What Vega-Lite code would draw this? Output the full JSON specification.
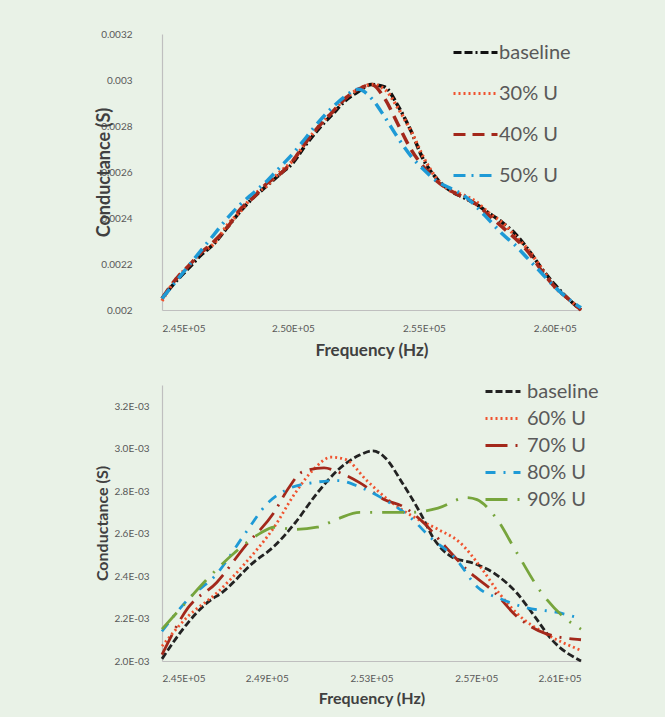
{
  "$schema": "https://vega.github.io/schema/vega-lite/v6.json",
  "background": "#e9f2e7",
  "padding": {"left": 94, "top": 29, "right": 78, "bottom": 12},
  "spacing": 22,
  "resolve": {"scale": {"color": "independent", "strokeDash": "independent"}, "legend": {"color": "independent", "strokeDash": "independent"}},
  "config": {
    "font": "Lato",
    "view": {"stroke": null},
    "axis": {
      "domainColor": "#bfbfbf",
      "domainWidth": 1.2,
      "ticks": false,
      "grid": false,
      "labelColor": "#595959",
      "labelFontSize": 10,
      "labelFont": "Lato",
      "titleColor": "#404040",
      "titleFont": "Lato",
      "titleFontWeight": "bold"
    },
    "legend": {
      "labelColor": "#595959",
      "labelFont": "Lato",
      "labelFontSize": 20,
      "symbolStrokeWidth": 3,
      "padding": 0,
      "orient": "none"
    }
  },
  "vconcat": [
    {
      "width": 419,
      "height": 276,
      "data": {"values": [
        {"f":245000,"G":0.00205,"s":"baseline"},{"f":245500,"G":0.00212,"s":"baseline"},{"f":246000,"G":0.00218,"s":"baseline"},{"f":246500,"G":0.00224,"s":"baseline"},{"f":247000,"G":0.00229,"s":"baseline"},{"f":247500,"G":0.00236,"s":"baseline"},{"f":248000,"G":0.00243,"s":"baseline"},{"f":248500,"G":0.00249,"s":"baseline"},{"f":249000,"G":0.00254,"s":"baseline"},{"f":249500,"G":0.00259,"s":"baseline"},{"f":250000,"G":0.00264,"s":"baseline"},{"f":250500,"G":0.00272,"s":"baseline"},{"f":251000,"G":0.00279,"s":"baseline"},{"f":251500,"G":0.00285,"s":"baseline"},{"f":252000,"G":0.00291,"s":"baseline"},{"f":252500,"G":0.00295,"s":"baseline"},{"f":253000,"G":0.00298,"s":"baseline"},{"f":253500,"G":0.00297,"s":"baseline"},{"f":254000,"G":0.00289,"s":"baseline"},{"f":254500,"G":0.00278,"s":"baseline"},{"f":255000,"G":0.00265,"s":"baseline"},{"f":255500,"G":0.00257,"s":"baseline"},{"f":256000,"G":0.00252,"s":"baseline"},{"f":256500,"G":0.00249,"s":"baseline"},{"f":257000,"G":0.00246,"s":"baseline"},{"f":257500,"G":0.00242,"s":"baseline"},{"f":258000,"G":0.00238,"s":"baseline"},{"f":258500,"G":0.00233,"s":"baseline"},{"f":259000,"G":0.00226,"s":"baseline"},{"f":259500,"G":0.00218,"s":"baseline"},{"f":260000,"G":0.00211,"s":"baseline"},{"f":260500,"G":0.00205,"s":"baseline"},{"f":261000,"G":0.00200,"s":"baseline"},
        {"f":245000,"G":0.00204,"s":"30% U"},{"f":245500,"G":0.00213,"s":"30% U"},{"f":246000,"G":0.00219,"s":"30% U"},{"f":246500,"G":0.00225,"s":"30% U"},{"f":247000,"G":0.00229,"s":"30% U"},{"f":247500,"G":0.00237,"s":"30% U"},{"f":248000,"G":0.00243,"s":"30% U"},{"f":248500,"G":0.00250,"s":"30% U"},{"f":249000,"G":0.00254,"s":"30% U"},{"f":249500,"G":0.00260,"s":"30% U"},{"f":250000,"G":0.00265,"s":"30% U"},{"f":250500,"G":0.00273,"s":"30% U"},{"f":251000,"G":0.00280,"s":"30% U"},{"f":251500,"G":0.00286,"s":"30% U"},{"f":252000,"G":0.00292,"s":"30% U"},{"f":252500,"G":0.00296,"s":"30% U"},{"f":253000,"G":0.00298,"s":"30% U"},{"f":253500,"G":0.00296,"s":"30% U"},{"f":254000,"G":0.00288,"s":"30% U"},{"f":254500,"G":0.00278,"s":"30% U"},{"f":255000,"G":0.00266,"s":"30% U"},{"f":255500,"G":0.00257,"s":"30% U"},{"f":256000,"G":0.00252,"s":"30% U"},{"f":256500,"G":0.00250,"s":"30% U"},{"f":257000,"G":0.00247,"s":"30% U"},{"f":257500,"G":0.00242,"s":"30% U"},{"f":258000,"G":0.00238,"s":"30% U"},{"f":258500,"G":0.00232,"s":"30% U"},{"f":259000,"G":0.00226,"s":"30% U"},{"f":259500,"G":0.00218,"s":"30% U"},{"f":260000,"G":0.00210,"s":"30% U"},{"f":260500,"G":0.00205,"s":"30% U"},{"f":261000,"G":0.00200,"s":"30% U"},
        {"f":245000,"G":0.00205,"s":"40% U"},{"f":245500,"G":0.00213,"s":"40% U"},{"f":246000,"G":0.00219,"s":"40% U"},{"f":246500,"G":0.00225,"s":"40% U"},{"f":247000,"G":0.00230,"s":"40% U"},{"f":247500,"G":0.00236,"s":"40% U"},{"f":248000,"G":0.00244,"s":"40% U"},{"f":248500,"G":0.00249,"s":"40% U"},{"f":249000,"G":0.00255,"s":"40% U"},{"f":249500,"G":0.00259,"s":"40% U"},{"f":250000,"G":0.00265,"s":"40% U"},{"f":250500,"G":0.00273,"s":"40% U"},{"f":251000,"G":0.00280,"s":"40% U"},{"f":251500,"G":0.00286,"s":"40% U"},{"f":252000,"G":0.00292,"s":"40% U"},{"f":252500,"G":0.00296,"s":"40% U"},{"f":253000,"G":0.00298,"s":"40% U"},{"f":253500,"G":0.00292,"s":"40% U"},{"f":254000,"G":0.00281,"s":"40% U"},{"f":254500,"G":0.00270,"s":"40% U"},{"f":255000,"G":0.00262,"s":"40% U"},{"f":255500,"G":0.00256,"s":"40% U"},{"f":256000,"G":0.00252,"s":"40% U"},{"f":256500,"G":0.00249,"s":"40% U"},{"f":257000,"G":0.00246,"s":"40% U"},{"f":257500,"G":0.00241,"s":"40% U"},{"f":258000,"G":0.00236,"s":"40% U"},{"f":258500,"G":0.00231,"s":"40% U"},{"f":259000,"G":0.00225,"s":"40% U"},{"f":259500,"G":0.00217,"s":"40% U"},{"f":260000,"G":0.00210,"s":"40% U"},{"f":260500,"G":0.00205,"s":"40% U"},{"f":261000,"G":0.00200,"s":"40% U"},
        {"f":245000,"G":0.00205,"s":"50% U"},{"f":245500,"G":0.00212,"s":"50% U"},{"f":246000,"G":0.00219,"s":"50% U"},{"f":246500,"G":0.00226,"s":"50% U"},{"f":247000,"G":0.00233,"s":"50% U"},{"f":247500,"G":0.00240,"s":"50% U"},{"f":248000,"G":0.00246,"s":"50% U"},{"f":248500,"G":0.00251,"s":"50% U"},{"f":249000,"G":0.00256,"s":"50% U"},{"f":249500,"G":0.00262,"s":"50% U"},{"f":250000,"G":0.00268,"s":"50% U"},{"f":250500,"G":0.00275,"s":"50% U"},{"f":251000,"G":0.00282,"s":"50% U"},{"f":251500,"G":0.00288,"s":"50% U"},{"f":252000,"G":0.00293,"s":"50% U"},{"f":252500,"G":0.00296,"s":"50% U"},{"f":253000,"G":0.00292,"s":"50% U"},{"f":253500,"G":0.00284,"s":"50% U"},{"f":254000,"G":0.00275,"s":"50% U"},{"f":254500,"G":0.00267,"s":"50% U"},{"f":255000,"G":0.00261,"s":"50% U"},{"f":255500,"G":0.00256,"s":"50% U"},{"f":256000,"G":0.00253,"s":"50% U"},{"f":256500,"G":0.00250,"s":"50% U"},{"f":257000,"G":0.00245,"s":"50% U"},{"f":257500,"G":0.00239,"s":"50% U"},{"f":258000,"G":0.00233,"s":"50% U"},{"f":258500,"G":0.00228,"s":"50% U"},{"f":259000,"G":0.00222,"s":"50% U"},{"f":259500,"G":0.00216,"s":"50% U"},{"f":260000,"G":0.00210,"s":"50% U"},{"f":260500,"G":0.00205,"s":"50% U"},{"f":261000,"G":0.00201,"s":"50% U"}
      ]},
      "mark": {"type": "line", "interpolate": "monotone", "strokeWidth": 3.5},
      "encoding": {
        "x": {"field": "f", "type": "quantitative",
          "scale": {"domain": [245000, 261000], "nice": false, "zero": false},
          "axis": {"values": [245000, 250000, 255000, 260000],
            "labelExpr": "replace(format(datum.value, '.2e'), 'e+', 'E+0')",
            "title": "Frequency (Hz)", "labelPadding": 13, "titlePadding": 9, "titleFontSize": 17}},
        "y": {"field": "G", "type": "quantitative",
          "scale": {"domain": [0.002, 0.0032], "nice": false, "zero": false},
          "axis": {"values": [0.002, 0.0022, 0.0024, 0.0026, 0.0028, 0.003, 0.0032],
            "format": "~g", "labelPadding": 30,
            "title": "Conductance (S)", "titleX": -58, "titleBaseline": "middle", "titleFontSize": 18}},
        "color": {"field": "s", "type": "nominal",
          "scale": {"domain": ["baseline", "30% U", "40% U", "50% U"],
                    "range": ["#111111", "#f0532f", "#a3281b", "#1e9ad6"]},
          "legend": {"title": null, "orient": "none", "legendX": 314, "legendY": 7,
                     "symbolType": "M-3.4,0H1", "symbolSize": 400, "rowPadding": 19, "labelOffset": 0}},
        "strokeDash": {"field": "s", "type": "nominal",
          "scale": {"domain": ["baseline", "30% U", "40% U", "50% U"],
                    "range": [[8,3,8,3,2,3],[2,3],[12,7],[12,6,2,6]]},
          "legend": {"title": null, "orient": "none", "legendX": 314, "legendY": 7,
                     "symbolType": "M-3.4,0H1", "symbolSize": 400, "rowPadding": 19, "labelOffset": 0}}
      }
    },
    {
      "width": 419,
      "height": 276,
      "data": {"values": [
        {"f":245000,"G":0.00201,"s":"baseline"},{"f":245990,"G":0.00218,"s":"baseline"},{"f":246680,"G":0.00227,"s":"baseline"},{"f":247370,"G":0.00233,"s":"baseline"},{"f":248450,"G":0.00246,"s":"baseline"},{"f":249280,"G":0.00254,"s":"baseline"},{"f":250080,"G":0.00265,"s":"baseline"},{"f":250920,"G":0.00279,"s":"baseline"},{"f":251720,"G":0.00290,"s":"baseline"},{"f":252545,"G":0.00297,"s":"baseline"},{"f":253050,"G":0.00299,"s":"baseline"},{"f":253500,"G":0.00296,"s":"baseline"},{"f":254170,"G":0.00284,"s":"baseline"},{"f":254850,"G":0.00270,"s":"baseline"},{"f":255410,"G":0.00257,"s":"baseline"},{"f":256070,"G":0.00249,"s":"baseline"},{"f":256910,"G":0.00246,"s":"baseline"},{"f":257720,"G":0.00241,"s":"baseline"},{"f":258550,"G":0.00232,"s":"baseline"},{"f":259230,"G":0.00221,"s":"baseline"},{"f":259890,"G":0.00210,"s":"baseline"},{"f":261000,"G":0.00200,"s":"baseline"},
        {"f":245000,"G":0.00207,"s":"60% U"},{"f":245990,"G":0.00221,"s":"60% U"},{"f":247090,"G":0.00232,"s":"60% U"},{"f":248170,"G":0.00246,"s":"60% U"},{"f":249280,"G":0.00263,"s":"60% U"},{"f":250080,"G":0.00279,"s":"60% U"},{"f":250770,"G":0.00290,"s":"60% U"},{"f":251460,"G":0.00296,"s":"60% U"},{"f":252000,"G":0.00295,"s":"60% U"},{"f":252820,"G":0.00285,"s":"60% U"},{"f":253630,"G":0.00276,"s":"60% U"},{"f":254590,"G":0.00268,"s":"60% U"},{"f":255540,"G":0.00262,"s":"60% U"},{"f":256360,"G":0.00256,"s":"60% U"},{"f":257180,"G":0.00244,"s":"60% U"},{"f":257870,"G":0.00232,"s":"60% U"},{"f":258680,"G":0.00221,"s":"60% U"},{"f":259630,"G":0.00213,"s":"60% U"},{"f":261000,"G":0.00205,"s":"60% U"},
        {"f":245000,"G":0.00203,"s":"70% U"},{"f":245990,"G":0.00225,"s":"70% U"},{"f":247090,"G":0.00237,"s":"70% U"},{"f":248170,"G":0.00254,"s":"70% U"},{"f":249280,"G":0.00270,"s":"70% U"},{"f":249810,"G":0.00281,"s":"70% U"},{"f":250350,"G":0.00289,"s":"70% U"},{"f":251190,"G":0.00291,"s":"70% U"},{"f":251720,"G":0.00289,"s":"70% U"},{"f":252545,"G":0.00284,"s":"70% U"},{"f":253500,"G":0.00276,"s":"70% U"},{"f":254170,"G":0.00273,"s":"70% U"},{"f":255000,"G":0.00265,"s":"70% U"},{"f":255810,"G":0.00254,"s":"70% U"},{"f":256640,"G":0.00243,"s":"70% U"},{"f":257720,"G":0.00232,"s":"70% U"},{"f":258550,"G":0.00221,"s":"70% U"},{"f":259630,"G":0.00213,"s":"70% U"},{"f":261000,"G":0.00210,"s":"70% U"},
        {"f":245000,"G":0.00214,"s":"80% U"},{"f":245990,"G":0.00229,"s":"80% U"},{"f":247090,"G":0.00241,"s":"80% U"},{"f":248170,"G":0.00260,"s":"80% U"},{"f":249010,"G":0.00274,"s":"80% U"},{"f":249810,"G":0.00281,"s":"80% U"},{"f":250770,"G":0.00284,"s":"80% U"},{"f":251720,"G":0.00285,"s":"80% U"},{"f":252545,"G":0.00282,"s":"80% U"},{"f":253500,"G":0.00276,"s":"80% U"},{"f":254450,"G":0.00268,"s":"80% U"},{"f":255270,"G":0.00258,"s":"80% U"},{"f":256230,"G":0.00248,"s":"80% U"},{"f":257030,"G":0.00235,"s":"80% U"},{"f":257990,"G":0.00229,"s":"80% U"},{"f":258940,"G":0.00225,"s":"80% U"},{"f":260050,"G":0.00223,"s":"80% U"},{"f":261000,"G":0.00220,"s":"80% U"},
        {"f":245000,"G":0.00215,"s":"90% U"},{"f":245730,"G":0.00225,"s":"90% U"},{"f":246680,"G":0.00238,"s":"90% U"},{"f":247770,"G":0.00251,"s":"90% U"},{"f":248730,"G":0.00260,"s":"90% U"},{"f":249280,"G":0.00263,"s":"90% U"},{"f":250080,"G":0.00262,"s":"90% U"},{"f":250920,"G":0.00263,"s":"90% U"},{"f":251720,"G":0.00267,"s":"90% U"},{"f":252545,"G":0.00270,"s":"90% U"},{"f":253630,"G":0.00270,"s":"90% U"},{"f":254450,"G":0.00270,"s":"90% U"},{"f":255540,"G":0.00272,"s":"90% U"},{"f":256640,"G":0.00277,"s":"90% U"},{"f":257030,"G":0.00276,"s":"90% U"},{"f":257720,"G":0.00268,"s":"90% U"},{"f":258550,"G":0.00251,"s":"90% U"},{"f":259500,"G":0.00232,"s":"90% U"},{"f":260310,"G":0.00221,"s":"90% U"},{"f":261000,"G":0.00215,"s":"90% U"}
      ]},
      "mark": {"type": "line", "interpolate": "monotone", "strokeWidth": 2.8},
      "encoding": {
        "x": {"field": "f", "type": "quantitative",
          "scale": {"domain": [245000, 261000], "nice": false, "zero": false},
          "axis": {"values": [245000, 249000, 253000, 257000, 261000],
            "labelExpr": "replace(format(datum.value, '.2e'), 'e+', 'E+0')",
            "title": "Frequency  (Hz)", "labelPadding": 12, "titlePadding": 7, "titleFontSize": 16}},
        "y": {"field": "G", "type": "quantitative",
          "scale": {"domain": [0.002, 0.0033], "nice": false, "zero": false},
          "axis": {"values": [0.002, 0.0022, 0.0024, 0.0026, 0.0028, 0.003, 0.0032],
            "labelExpr": "replace(format(datum.value, '.1e'), 'e-', 'E-0')", "labelPadding": 13,
            "title": "Conductance (S)", "titleX": -60, "titleBaseline": "middle", "titleFontSize": 16}},
        "color": {"field": "s", "type": "nominal",
          "scale": {"domain": ["baseline", "60% U", "70% U", "80% U", "90% U"],
                    "range": ["#222222", "#f0532f", "#a3281b", "#1e9ad6", "#77a53c"]},
          "legend": {"title": null, "orient": "none", "legendX": 337, "legendY": -5,
                     "symbolType": "M-2.5,0H1", "symbolSize": 400, "rowPadding": 5, "labelOffset": 5}},
        "strokeDash": {"field": "s", "type": "nominal",
          "scale": {"domain": ["baseline", "60% U", "70% U", "80% U", "90% U"],
                    "range": [[7,3],[2,3],[22,8,2,8],[10,8,2,8],[22,10,2,10]]},
          "legend": {"title": null, "orient": "none", "legendX": 337, "legendY": -5,
                     "symbolType": "M-2.5,0H1", "symbolSize": 400, "rowPadding": 5, "labelOffset": 5}}
      }
    }
  ]
}
